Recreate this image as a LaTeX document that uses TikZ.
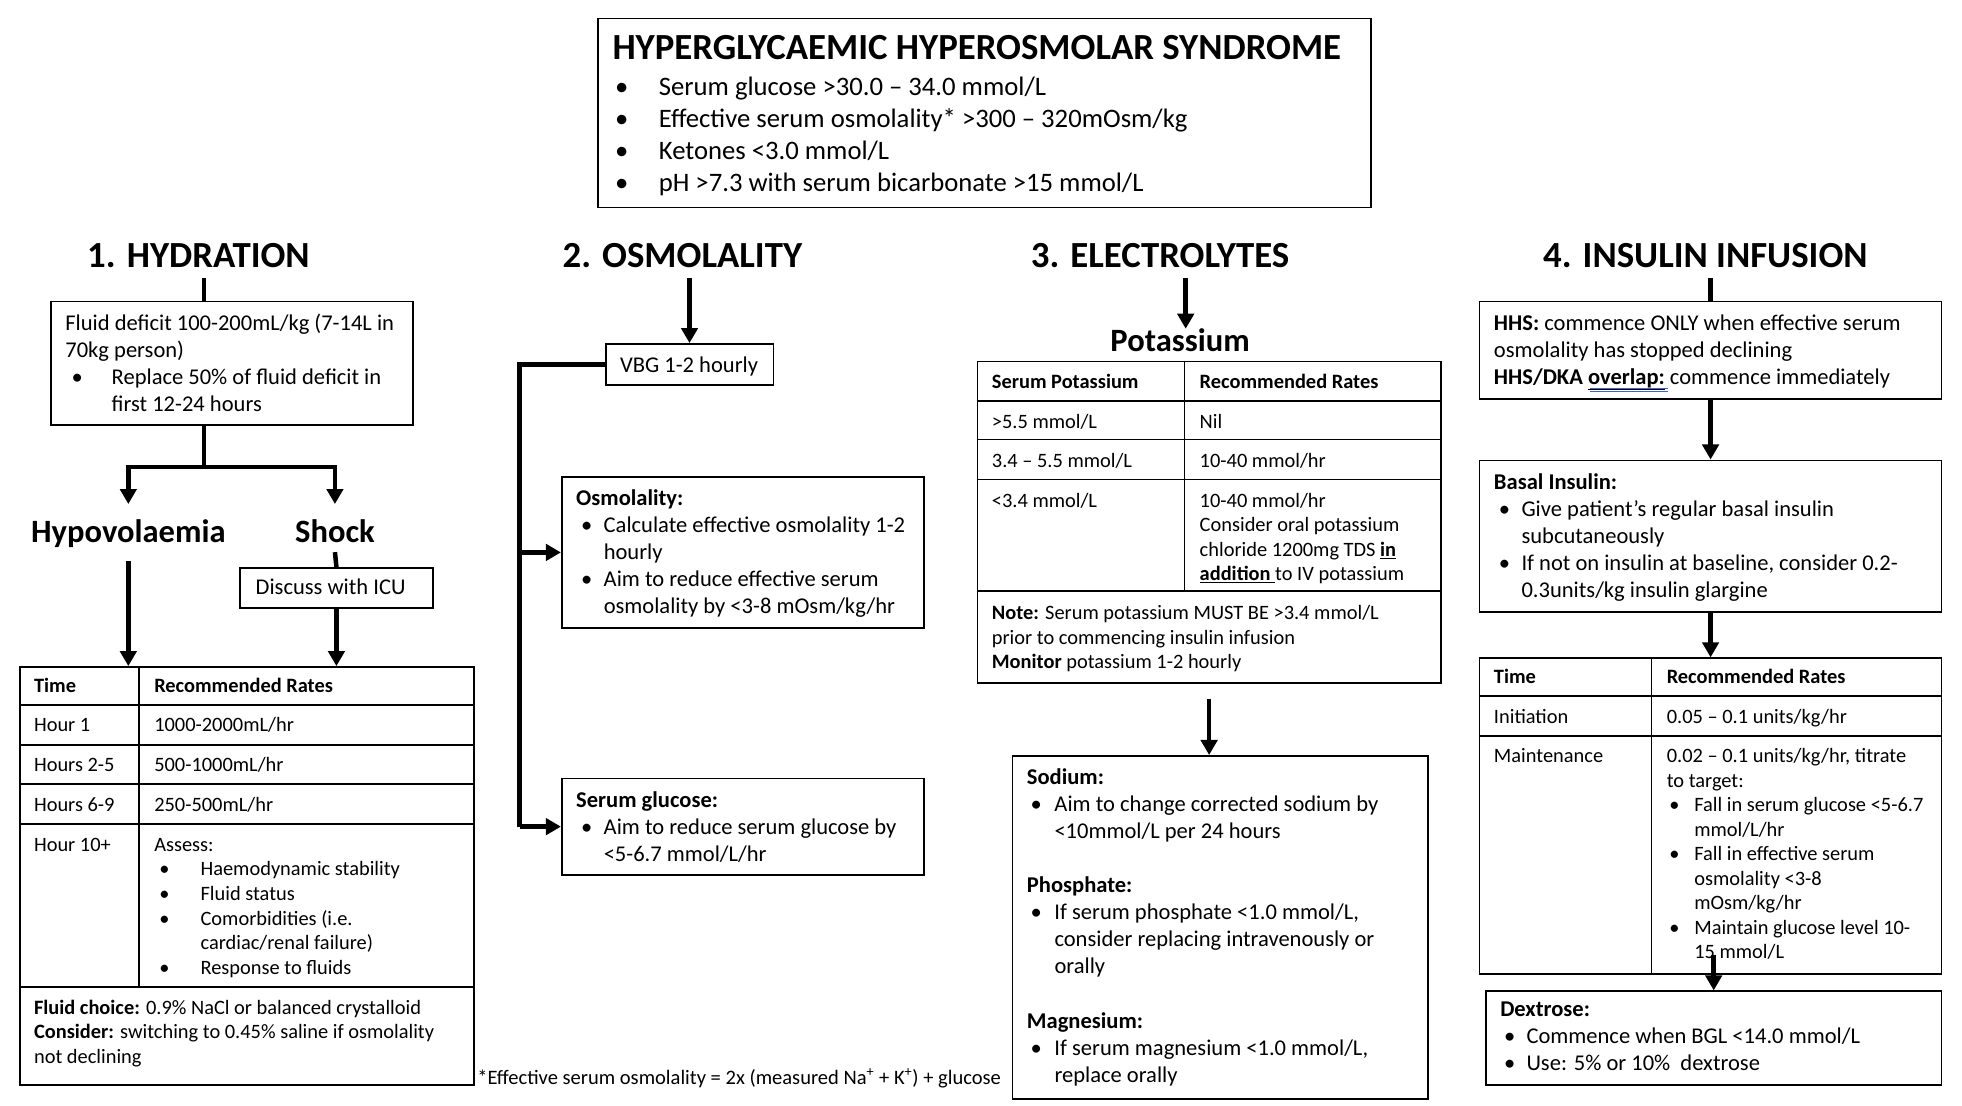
\documentclass[tikz,border=0pt]{standalone}
\usepackage{fontspec}
\setmainfont{Carlito}
\usetikzlibrary{arrows.meta}
\newcommand\bul[1]{\makebox[#1pt][l]{•}}
\newcommand\ind[1]{\hspace*{#1pt}}
\newcommand\ml[1]{\begin{tabular}[t]{@{}l@{}}#1\end{tabular}}
\newcommand\mybox[5]{\node[box, minimum width=#4pt, minimum height=#5pt] (#1) at (#2,#3) {};}
\tikzset{
  box/.style={draw, line width=1.4pt, inner sep=0pt, anchor=north west},
  tl/.style={line width=1.4pt},
  conn/.style={line width=3.6pt},
  arr/.style={line width=3.6pt, -{Triangle[width=13pt,length=12pt]}},
  txt/.style={inner sep=0pt, anchor=base west},
  bt/.style={txt, font=\fontsize{18pt}{21.6pt}\selectfont},
  tt/.style={txt, font=\fontsize{16.3pt}{19.6pt}\selectfont},
  head/.style={inner sep=0pt, anchor=base, font=\fontsize{29.4pt}{34pt}\selectfont\bfseries},
  sub/.style={inner sep=0pt, anchor=base, font=\fontsize{26pt}{31pt}\selectfont\bfseries},
}
\begin{document}
\begin{tikzpicture}[x=1pt,y=-1pt]
\fill[white] (0,0) rectangle (1567,883.3);
\useasboundingbox (0,0) rectangle (1567,883.3);

% ---------- title ----------
\mybox{ttl}{477}{14}{617}{151}
\node[head, anchor=base west] (ttltxt) at (489,47.5) {HYPERGLYCAEMIC HYPEROSMOLAR SYNDROME};
\node[txt, font=\fontsize{21.3pt}{25.6pt}\selectfont] (ttlbul) at (491,76)
 {\ml{\bul{35}Serum glucose >30.0 – 34.0 mmol/L\\
  \bul{35}Effective serum osmolality* >300 – 320mOsm/kg\\
  \bul{35}Ketones <3.0 mmol/L\\
  \bul{35}pH >7.3 with serum bicarbonate >15 mmol/L}};

% ---------- headings ----------
\node[head] (hyd) at (158.5,214) {1. HYDRATION};
\node[head] (osm) at (545,214) {2. OSMOLALITY};
\node[head] (ele) at (926.5,214) {3. ELECTROLYTES};
\node[head] (ins) at (1362,214) {4. INSULIN INFUSION};

% ---------- 1. hydration ----------
\mybox{fluid}{40}{240}{289}{99}
\node[bt] (fluidtxt) at (52,264)
 {\ml{Fluid deficit 100-200mL/kg (7-14L in\\
  70kg person)\\
  \ind{5}\bul{32}Replace 50\% of fluid deficit in\\
  \ind{37}first 12-24 hours}};
\node[sub] (hypo) at (102.5,433) {Hypovolaemia};
\node[sub] (shock) at (267.5,433) {Shock};
\mybox{icu}{191}{453}{154}{32}
\node[bt] (icutxt) at (204,474.5) {Discuss with ICU};

\mybox{tab1}{15}{532}{363}{334}
\draw[tl] (111,532) -- (111,788);
\foreach \yy in {563,595,626,658,788} \draw[tl] (15,\yy) -- (378,\yy);
\node[tt] (t1a) at (27,553) {\textbf{Time}};
\node[tt] (t1b) at (123,553) {\textbf{Recommended Rates}};
\node[tt] (t1c) at (27,584) {Hour 1};
\node[tt] (t1d) at (123,584) {1000-2000mL/hr};
\node[tt] (t1e) at (27,616) {Hours 2-5};
\node[tt] (t1f) at (123,616) {500-1000mL/hr};
\node[tt] (t1g) at (27,648) {Hours 6-9};
\node[tt] (t1h) at (123,648) {250-500mL/hr};
\node[tt] (t1i) at (27,680) {Hour 10+};
\node[tt] (t1j) at (123,680)
 {\ml{Assess:\\
  \ind{4}\bul{33}Haemodynamic stability\\
  \ind{4}\bul{33}Fluid status\\
  \ind{4}\bul{33}Comorbidities (i.e.\\
  \ind{37}cardiac/renal failure)\\
  \ind{4}\bul{33}Response to fluids}};
\node[tt] (t1k) at (27,810)
 {\ml{\textbf{Fluid choice:} 0.9\% NaCl or balanced crystalloid\\
  \textbf{Consider:} switching to 0.45\% saline if osmolality\\
  not declining}};

% ---------- 2. osmolality ----------
\mybox{vbg}{483}{274}{134}{33}
\node[bt] (vbgtxt) at (495,297.5) {VBG 1-2 hourly};
\mybox{osmbox}{448}{380}{289}{121}
\node[bt] (osmtxt) at (460,403.7)
 {\ml{\textbf{Osmolality:}\\
  \ind{4}\bul{18}Calculate effective osmolality 1-2\\
  \ind{22}hourly\\
  \ind{4}\bul{18}Aim to reduce effective serum\\
  \ind{22}osmolality by <3-8 mOsm/kg/hr}};
\mybox{glubox}{448}{621}{289}{77}
\node[bt] (glutxt) at (460,644.7)
 {\ml{\textbf{Serum glucose:}\\
  \ind{4}\bul{18}Aim to reduce serum glucose by\\
  \ind{22}<5-6.7 mmol/L/hr}};

% ---------- 3. electrolytes ----------
\node[sub] (pot) at (942.5,281) {Potassium};
\mybox{ktab}{780}{288}{370}{257}
\draw[tl] (946,288) -- (946,472);
\foreach \yy in {320,351,383,472} \draw[tl] (780,\yy) -- (1150,\yy);
\node[tt] (k1) at (792,310) {\textbf{Serum Potassium}};
\node[tt] (k2) at (958,310) {\textbf{Recommended Rates}};
\node[tt] (k3) at (792,342) {>5.5 mmol/L};
\node[tt] (k4) at (958,342) {Nil};
\node[tt] (k5) at (792,373) {3.4 – 5.5 mmol/L};
\node[tt] (k6) at (958,373) {10-40 mmol/hr};
\node[tt] (k7) at (792,405) {<3.4 mmol/L};
\node[tt] (k8) at (958,405)
 {\ml{10-40 mmol/hr\\
  Consider oral potassium\\
  chloride 1200mg TDS \underline{\textbf{in}}\\
  \underline{\textbf{addition }}to IV potassium}};
\node[tt] (k9) at (792,495)
 {\ml{\textbf{Note:} Serum potassium MUST BE >3.4 mmol/L\\
  prior to commencing insulin infusion\\
  \textbf{Monitor} potassium 1-2 hourly}};
\mybox{na}{808}{603}{332}{274}
\node[bt] (natxt) at (820,626.7)
 {\ml{\textbf{Sodium:}\\
  \ind{3}\bul{19}Aim to change corrected sodium by\\
  \ind{22}<10mmol/L per 24 hours\\[21.6pt]
  \textbf{Phosphate:}\\
  \ind{3}\bul{19}If serum phosphate <1.0 mmol/L,\\
  \ind{22}consider replacing intravenously or\\
  \ind{22}orally\\[21.6pt]
  \textbf{Magnesium:}\\
  \ind{3}\bul{19}If serum magnesium <1.0 mmol/L,\\
  \ind{22}replace orally}};
\node[tt, font=\fontsize{16.4pt}{20pt}\selectfont] (foot) at (381,866) {*Effective serum osmolality = 2x (measured Na\textsuperscript{+} + K\textsuperscript{+}) + glucose};

% ---------- 4. insulin ----------
\mybox{hhs}{1181}{240}{369}{78}
\node[bt] (hhstxt) at (1193,263.7)
 {\ml{\textbf{HHS:} commence ONLY when effective serum\\
  osmolality has stopped declining\\
  \textbf{HHS/DKA \underline{overlap:}} commence immediately}};
\draw[line width=0.9pt, draw={rgb,255:red,60;green,100;blue,210}] (1270,310) -- (1332,310) (1270,313) -- (1332,313);
\mybox{basal}{1181}{367}{369}{121}
\node[bt] (basaltxt) at (1193,390.7)
 {\ml{\textbf{Basal Insulin:}\\
  \ind{4}\bul{18}Give patient’s regular basal insulin\\
  \ind{22}subcutaneously\\
  \ind{4}\bul{18}If not on insulin at baseline, consider 0.2-\\
  \ind{22}0.3units/kg insulin glargine}};
\mybox{itab}{1181}{525}{369}{252}
\draw[tl] (1319,525) -- (1319,777);
\foreach \yy in {556,588} \draw[tl] (1181,\yy) -- (1550,\yy);
\node[tt] (i1) at (1193,546) {\textbf{Time}};
\node[tt] (i2) at (1331,546) {\textbf{Recommended Rates}};
\node[tt] (i3) at (1193,578) {Initiation};
\node[tt] (i4) at (1331,578) {0.05 – 0.1 units/kg/hr};
\node[tt] (i5) at (1193,609) {Maintenance};
\node[tt] (i6) at (1331,609)
 {\ml{0.02 – 0.1 units/kg/hr, titrate\\
  to target:\\
  \ind{2}\bul{20}Fall in serum glucose <5-6.7\\
  \ind{22}mmol/L/hr\\
  \ind{2}\bul{20}Fall in effective serum\\
  \ind{22}osmolality <3-8\\
  \ind{22}mOsm/kg/hr\\
  \ind{2}\bul{20}Maintain glucose level 10-\\
  \ind{22}15 mmol/L}};
\mybox{dex}{1186}{791}{364}{75}
\node[bt] (dextxt) at (1198,811.7)
 {\ml{\textbf{Dextrose:}\\
  \ind{3}\bul{18}Commence when BGL <14.0 mmol/L\\
  \ind{3}\bul{18}Use: 5\% or 10\%~~dextrose}};

% ---------- connectors ----------
\coordinate (hx) at (163,222);
\coordinate (split) at (163,373);
\draw[conn] (hx) -- (hx |- fluid.north);
\draw[conn] (fluid.south -| hx) -- (split);
\draw[arr] (split) -| ([yshift=12pt]hypo.north);
\draw[arr] (split) -| ([yshift=12pt]shock.north);
\draw[conn] ([yshift=-8pt]shock.base) -- (icu.north);
\draw[arr] (icu.south) -- (icu.south |- tab1.north);
\draw[arr] ([yshift=-15pt]hypo.base) -- (hypo.base |- tab1.north);

\coordinate (busx) at (415,0);
\draw[arr] ([yshift=52pt]vbg.north) -- (vbg.north);
\draw[conn] (vbg.west) -| (busx |- glubox.west);
\draw[arr] (busx |- osmbox.west) -- (osmbox.west);
\draw[arr] (busx |- glubox.west) -- (glubox.west);

\coordinate (ex) at (947,222);
\draw[arr] (ex) -- (ex |- pot.north);
\draw[arr] ([yshift=-12pt]ktab.south) -- (ktab.south |- na.north);

\draw[conn] ([yshift=18pt]hhs.north) -- (hhs.north);
\draw[arr] (hhs.south) -- (basal.north);
\draw[arr] (basal.south) -- (itab.north);
\draw[arr] ([yshift=28pt]dex.north) -- (dex.north);
\end{tikzpicture}
\end{document}
